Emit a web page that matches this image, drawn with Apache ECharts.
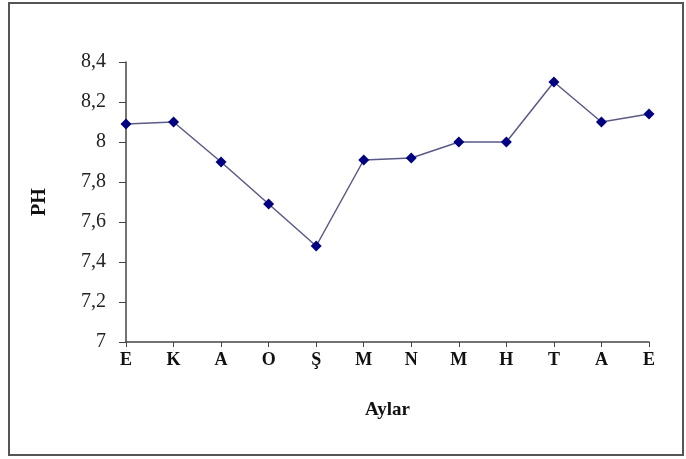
<!DOCTYPE html>
<html>
<head>
<meta charset="utf-8">
<script src="https://cdn.jsdelivr.net/npm/echarts@6/dist/echarts.min.js"></script>
<style>
html,body{margin:0;padding:0;background:#fff;}
#frame{position:absolute;left:8px;top:2px;width:672px;height:450px;border:2px solid #555;box-sizing:content-box;}
#chart{position:absolute;left:0;top:0;width:686px;height:459px;}
</style>
</head>
<body>
<div id="frame"></div>
<div id="chart"></div>
<script>
const months = ['E','K','A','O','Ş','M','N','M','H','T','A','E'];
const phValues = [8.09, 8.10, 7.90, 7.69, 7.48, 7.91, 7.92, 8.00, 8.00, 8.30, 8.10, 8.14];
const yMin = 7, yMax = 8.4, yStep = 0.2;

const chart = echarts.init(document.getElementById('chart'));
const serif = '"Liberation Serif","DejaVu Serif",serif';
chart.setOption({
  animation: false,
  grid: {left: 126, top: 62, right: 37, bottom: 117},
  xAxis: {
    type: 'category',
    data: months,
    boundaryGap: false,
    name: 'Aylar',
    nameLocation: 'middle',
    nameGap: 59,
    nameTextStyle: {fontFamily: serif, fontSize: 19, fontWeight: 'bold', color: '#111'},
    axisLine: {lineStyle: {color: '#444', width: 1.5}},
    axisTick: {show: true, length: 5, alignWithLabel: true, lineStyle: {color: '#444'}},
    axisLabel: {fontFamily: serif, fontSize: 18, fontWeight: 'bold', color: '#111', margin: 9},
    splitLine: {show: false}
  },
  yAxis: {
    type: 'value',
    min: yMin, max: yMax, interval: yStep,
    name: 'PH',
    nameLocation: 'middle',
    nameGap: 76,
    nameRotate: 90,
    nameTextStyle: {fontFamily: serif, fontSize: 20, fontWeight: 'bold', color: '#111'},
    axisLine: {show: true, lineStyle: {color: '#444', width: 1.5}},
    axisTick: {show: true, length: 7, lineStyle: {color: '#444'}},
    axisLabel: {
      fontFamily: serif, fontSize: 20, color: '#222', margin: 20,
      formatter: v => String(Math.round(v * 10) / 10).replace('.', ',')
    },
    splitLine: {show: false}
  },
  series: [{
    type: 'line',
    data: phValues,
    symbol: 'diamond',
    symbolSize: 11,
    itemStyle: {color: '#000080'},
    lineStyle: {color: '#5a5a86', width: 1.5}
  }]
});
</script>
</body>
</html>
